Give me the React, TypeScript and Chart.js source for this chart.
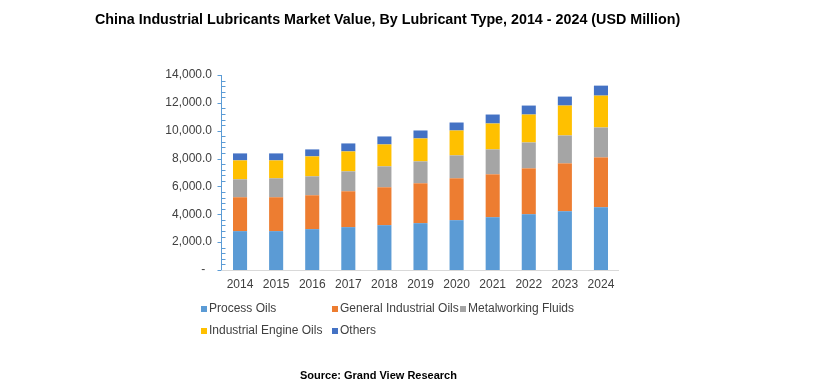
import React, { useEffect, useRef } from "react";
import { Chart, registerables } from "chart.js";

Chart.register(...registerables);

const years = ["2014", "2015", "2016", "2017", "2018", "2019", "2020", "2021", "2022", "2023", "2024"];
const processOils = [2790, 2790, 2934, 3077, 3220, 3363, 3578, 3792, 4007, 4221, 4508];
const generalIndustrialOils = [2433, 2433, 2432, 2575, 2719, 2862, 3005, 3077, 3291, 3435, 3577];
const metalworkingFluids = [1288, 1360, 1360, 1432, 1502, 1574, 1645, 1789, 1860, 2003, 2147];
const industrialEngineOils = [1359, 1287, 1431, 1430, 1574, 1646, 1789, 1860, 2004, 2147, 2289];
const others = [501, 501, 501, 573, 573, 572, 572, 644, 644, 644, 716];

const seriesNames = ["Process Oils", "General Industrial Oils", "Metalworking Fluids", "Industrial Engine Oils", "Others"];
const seriesColors = ["#5B9BD5", "#ED7D31", "#A5A5A5", "#FFC000", "#4472C4"];

const titleText = "China Industrial Lubricants Market Value, By Lubricant Type, 2014 - 2024 (USD Million)";
const sourceText = "Source: Grand View Research";

const FONT = "'Liberation Sans', Arial, sans-serif";

export default function App() {
  const ref = useRef<HTMLCanvasElement | null>(null);

  useEffect(() => {
    if (!ref.current) return;
    const values = [processOils, generalIndustrialOils, metalworkingFluids, industrialEngineOils, others];

    const decor = {
      id: "decor",
      afterDraw(chart: any) {
        const ctx = chart.ctx;
        const area = chart.chartArea;
        const y = chart.scales.y;
        ctx.save();
        // y axis line + ticks
        ctx.strokeStyle = "#5B9BD5";
        ctx.lineWidth = 1;
        ctx.beginPath();
        const ax = Math.round(area.left) - 0.5;
        ctx.moveTo(ax, area.top);
        ctx.lineTo(ax, area.bottom);
        for (let v = 0; v <= 14000; v += 400) {
          const py = Math.round(y.getPixelForValue(v)) + 0.5;
          if (v % 2000 === 0) {
            ctx.moveTo(ax - 4, py);
            ctx.lineTo(ax, py);
          } else {
            ctx.moveTo(ax, py);
            ctx.lineTo(ax + 4, py);
          }
        }
        ctx.stroke();
        // x axis line
        ctx.strokeStyle = "#D9D9D9";
        ctx.beginPath();
        const by = Math.round(area.bottom) + 0.5;
        ctx.moveTo(area.left, by);
        ctx.lineTo(area.right, by);
        ctx.stroke();

        // title
        ctx.fillStyle = "#000000";
        ctx.textBaseline = "middle";
        ctx.textAlign = "left";
        ctx.font = "bold 14.3px " + FONT;
        ctx.fillText(titleText, 95, 20, 588);
        // source
        ctx.font = "bold 11px " + FONT;
        ctx.fillText(sourceText, 300, 376, 160);

        // legend
        const pos = [
          [201, 309],
          [332, 309],
          [460, 309],
          [201, 331],
          [332, 331],
        ];
        ctx.font = "12px " + FONT;
        chart.data.datasets.forEach((ds: any, i: number) => {
          const [lx, ly] = pos[i];
          ctx.fillStyle = ds.backgroundColor;
          ctx.fillRect(lx, ly - 3, 6, 6);
          ctx.fillStyle = "#404040";
          ctx.fillText(ds.label, lx + 8, ly);
        });
        ctx.restore();
      },
    };

    const chart = new Chart(ref.current, {
      type: "bar",
      data: {
        labels: years,
        datasets: seriesNames.map((name, i) => ({
          label: name,
          data: values[i],
          backgroundColor: seriesColors[i],
          borderWidth: 0,
          categoryPercentage: 1,
          barPercentage: 0.39,
        })),
      },
      options: {
        animation: false,
        responsive: false,
        maintainAspectRatio: false,
        layout: { padding: { left: 162, right: 208, top: 75, bottom: 0 } },
        plugins: {
          legend: { display: false },
          title: { display: false },
          tooltip: { enabled: false },
        },
        scales: {
          x: {
            stacked: true,
            grid: { display: false, drawTicks: false },
            border: { display: false },
            ticks: { font: { family: FONT, size: 12 }, color: "#404040", padding: 7 },
            afterFit(scale: any) {
              scale.height = 115;
            },
          },
          y: {
            stacked: true,
            min: 0,
            max: 14000,
            grid: { display: false, drawTicks: false },
            border: { display: false },
            ticks: {
              stepSize: 2000,
              padding: 10,
              font: { family: FONT, size: 12 },
              color: "#404040",
              callback: (v: any) =>
                Number(v) === 0
                  ? "-  "
                  : Number(v).toLocaleString("en-US", { minimumFractionDigits: 1, maximumFractionDigits: 1 }),
            },
            afterFit(scale: any) {
              scale.width = 60;
            },
          },
        },
      },
      plugins: [decor],
    });
    return () => chart.destroy();
  }, []);

  return (
    <div style={{ position: "fixed", left: 0, top: 0, width: 827, height: 385, background: "#fff" }}>
      <canvas ref={ref} width={827} height={385} style={{ width: 827, height: 385 }} />
    </div>
  );
}
